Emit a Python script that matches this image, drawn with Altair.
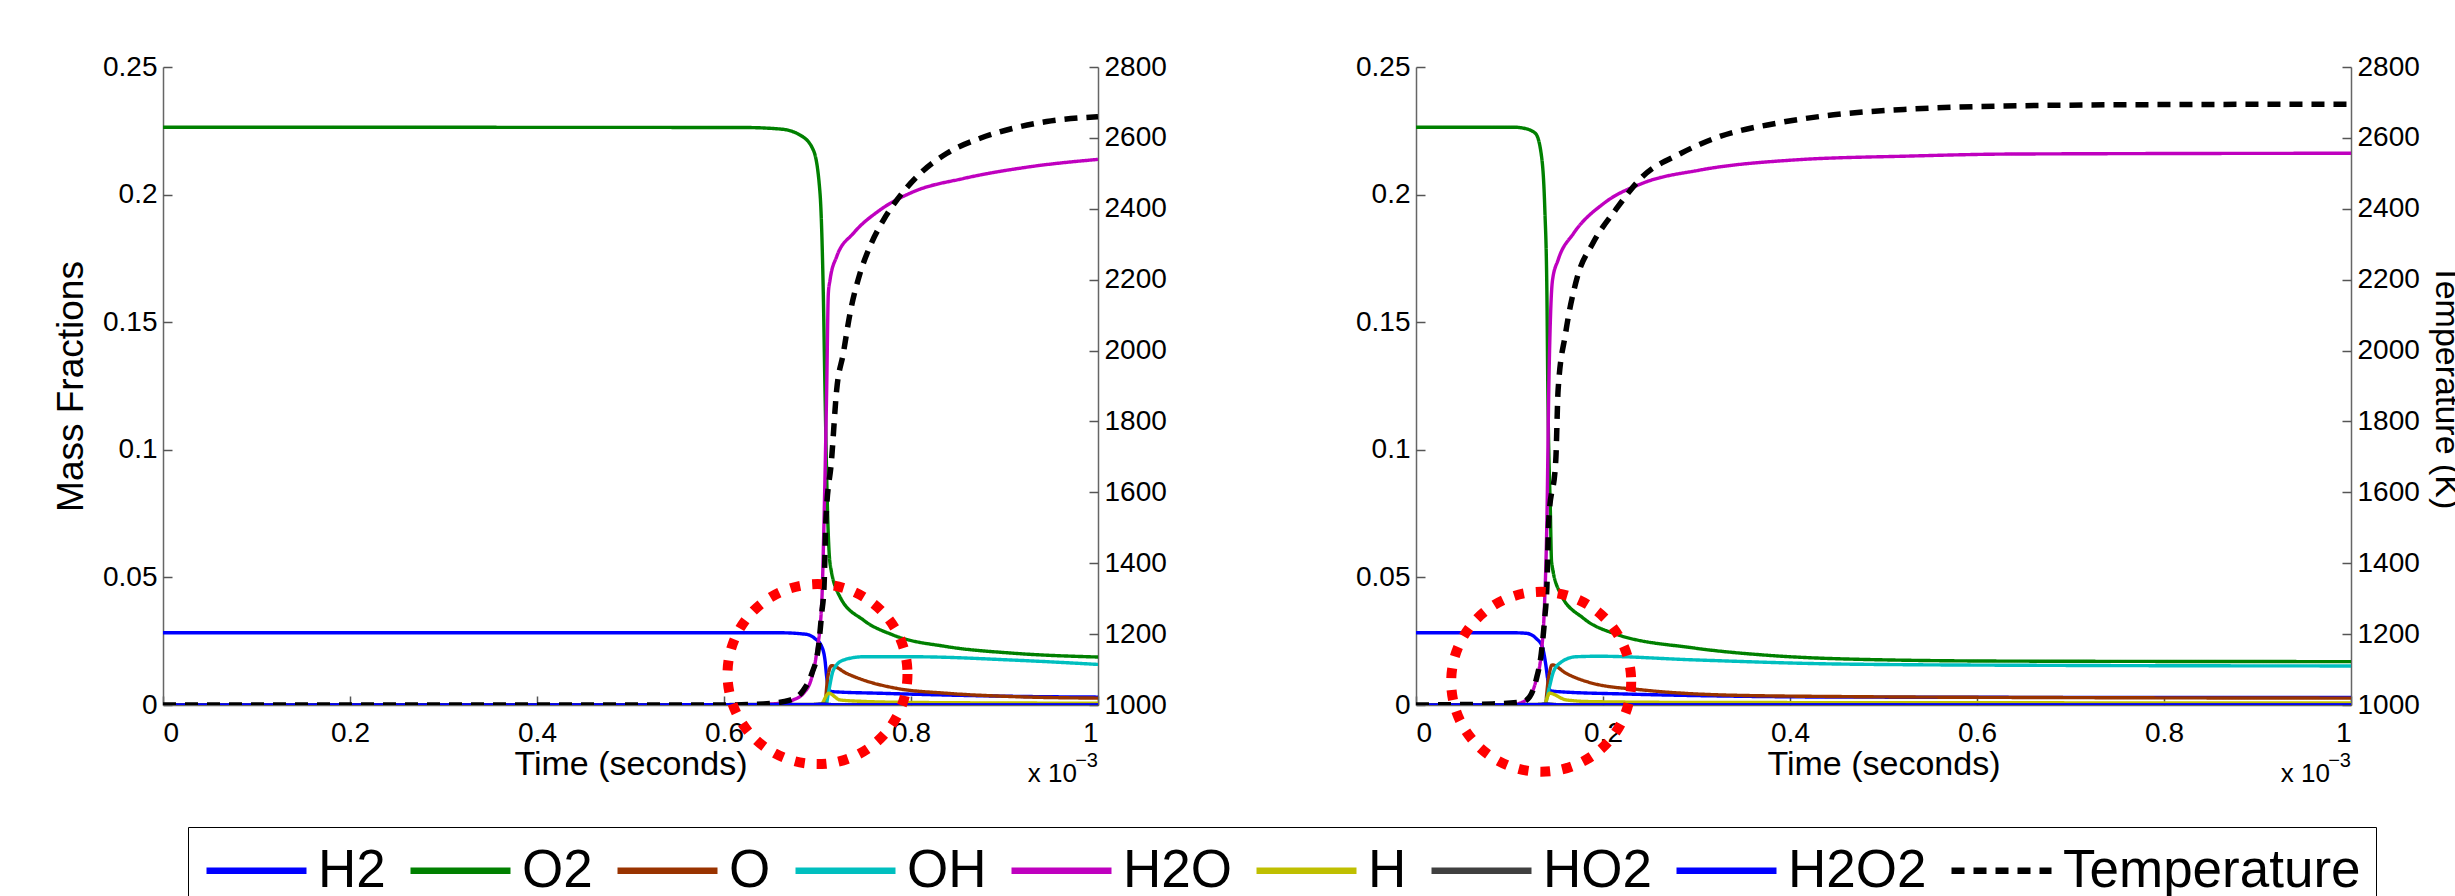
import altair as alt
import pandas as pd

FONT = "Liberation Sans"

SERIES = ["H2", "O2", "O", "OH", "H2O", "H", "HO2", "H2O2", "Temperature"]
COLORS = ["#0000ff", "#008000", "#993300", "#00bfbf", "#bf00bf", "#bfbf00", "#404040", "#0000ff", "#000000"]
DASHES = [[1, 0], [1, 0], [1, 0], [1, 0], [1, 0], [1, 0], [1, 0], [1, 0], [13, 9]]

X_TICKS = [0, 0.2, 0.4, 0.6, 0.8, 1]
Y_TICKS = [0, 0.05, 0.1, 0.15, 0.2, 0.25]
T_TICKS = [1000, 1200, 1400, 1600, 1800, 2000, 2200, 2400, 2600, 2800]
EXP_TEXT = ["x 10", "\u22123"]

# ---------------- Left panel (time in 1e-3 s) ----------------
L_H2_T = [0, 0.66, 0.688, 0.697, 0.7045, 0.708, 0.7098, 0.7123, 0.717, 0.767, 0.838, 0.909, 1.0]
L_H2_Y = [0.0283, 0.0283, 0.0277, 0.0261, 0.0229, 0.0176, 0.0111, 0.0056, 0.0052, 0.0046, 0.0039, 0.0034, 0.0031]
L_O2_T = [0, 0.62, 0.66, 0.681, 0.6955, 0.7027, 0.7062, 0.708, 0.711, 0.7134, 0.724, 0.749, 0.781, 0.838, 0.909, 1.0]
L_O2_Y = [0.2264, 0.2263, 0.2257, 0.2234, 0.2175, 0.2005, 0.1613, 0.1234, 0.0725, 0.0555, 0.0424, 0.0333, 0.0274, 0.0229, 0.0203, 0.0188]
L_O_T = [0, 0.7075, 0.711, 0.715, 0.731, 0.749, 0.785, 0.838, 0.909, 1.0]
L_O_Y = [0, 0, 0.011, 0.0154, 0.0124, 0.0098, 0.0065, 0.0046, 0.0033, 0.0027]
L_OH_T = [0, 0.709, 0.7116, 0.717, 0.7276, 0.749, 0.802, 0.909, 1.0]
L_OH_Y = [0, 0, 0.0046, 0.0137, 0.0176, 0.0189, 0.0189, 0.0176, 0.0159]
L_H2O_T = [0, 0.62, 0.66, 0.674, 0.685, 0.694, 0.699, 0.7045, 0.707, 0.7098, 0.7116, 0.7134, 0.7205, 0.7383, 0.767, 0.8025, 0.856, 0.927, 1.0]
L_H2O_Y = [0, 0, 0.0007, 0.002, 0.0046, 0.011, 0.0202, 0.0398, 0.0725, 0.1234, 0.1613, 0.1665, 0.1757, 0.1848, 0.194, 0.2011, 0.2063, 0.2109, 0.2138]
L_H_T = [0, 0.703, 0.712, 0.724, 0.749, 0.802, 1.0]
L_H_Y = [0, 0, 0.0046, 0.002, 0.0014, 0.001, 0.0007]
L_HO2_T = [0, 0.69, 0.705, 0.72, 1.0]
L_HO2_Y = [0.00005, 0.0002, 0.0004, 0.0001, 0.00005]
L_H2O2_T = [0, 0.69, 0.705, 0.72, 1.0]
L_H2O2_Y = [0.00001, 0.0001, 0.0002, 0.00005, 0.00001]
L_TEMP_T = [0, 0.6, 0.642, 0.6706, 0.685, 0.694, 0.701, 0.7045, 0.707, 0.709, 0.715, 0.7205, 0.7276, 0.7348,
            0.7455, 0.756, 0.7705, 0.785, 0.81, 0.838, 0.874, 0.909, 0.945, 1.0]
L_TEMP_K = [1000, 1000, 1003, 1014, 1042, 1089, 1164, 1259, 1334, 1522, 1691, 1889, 1992, 2105,
            2218, 2293, 2368, 2425, 2500, 2556, 2599, 2627, 2646, 2660]
L_CIRCLE_T = [0.700]
L_CIRCLE_Y = [0.0121]

# ---------------- Right panel ----------------
R_H2_T = [0, 0.105, 0.118, 0.1285, 0.135, 0.1386, 0.141, 0.1435, 0.1535, 0.2247, 0.3315, 0.456, 0.7, 1.0]
R_H2_Y = [0.0283, 0.0283, 0.0281, 0.0261, 0.0229, 0.0163, 0.0098, 0.0056, 0.0052, 0.0043, 0.0035, 0.0031, 0.003, 0.003]
R_O2_T = [0, 0.105, 0.1154, 0.1277, 0.1338, 0.1378, 0.14, 0.141, 0.1437, 0.145, 0.154, 0.179, 0.212, 0.296, 0.379, 0.463, 0.63, 1.0]
R_O2_Y = [0.2264, 0.2264, 0.226, 0.224, 0.2162, 0.194, 0.1613, 0.1234, 0.076, 0.056, 0.044, 0.034, 0.028, 0.0224, 0.0194, 0.018, 0.0172, 0.017]
R_O_T = [0, 0.138, 0.1415, 0.1456, 0.1606, 0.189, 0.2425, 0.3315, 0.456, 0.7, 1.0]
R_O_Y = [0, 0, 0.01, 0.0157, 0.0124, 0.0085, 0.0059, 0.0039, 0.0033, 0.0029, 0.0027]
R_OH_T = [0, 0.1375, 0.1428, 0.1464, 0.1535, 0.171, 0.195, 0.296, 0.463, 0.7, 1.0]
R_OH_Y = [0, 0, 0.0072, 0.0124, 0.0163, 0.0189, 0.0191, 0.0177, 0.016, 0.0155, 0.0153]
R_H2O_T = [0, 0.1, 0.111, 0.1215, 0.1285, 0.134, 0.1375, 0.14, 0.142, 0.146, 0.152, 0.1685, 0.201, 0.242, 0.3034, 0.4057, 0.528, 0.638, 1.0]
R_H2O_Y = [0, 0, 0.0007, 0.0033, 0.0098, 0.0203, 0.0398, 0.0725, 0.1234, 0.1665, 0.1744, 0.1848, 0.1966, 0.2044, 0.2096, 0.2136, 0.2151, 0.2159, 0.2162]
R_H_T = [0, 0.137, 0.1428, 0.1606, 0.189, 0.3, 1.0]
R_H_Y = [0, 0, 0.0046, 0.002, 0.0013, 0.001, 0.0008]
R_HO2_T = [0, 0.125, 0.14, 0.155, 1.0]
R_HO2_Y = [0.00005, 0.0002, 0.0004, 0.0001, 0.00005]
R_H2O2_T = [0, 0.125, 0.14, 0.155, 1.0]
R_H2O2_Y = [0.00001, 0.0001, 0.0002, 0.00005, 0.00001]
R_TEMP_T = [0, 0.082, 0.114, 0.1215, 0.1285, 0.134, 0.1375, 0.14, 0.142, 0.1495, 0.152, 0.16, 0.1726, 0.189,
            0.2135, 0.242, 0.283, 0.3237, 0.385, 0.4466, 0.528, 0.63, 0.8, 1.0]
R_TEMP_K = [1000, 1003, 1009, 1023, 1071, 1146, 1240, 1334, 1522, 1691, 1889, 2049, 2208, 2302,
            2397, 2490, 2556, 2603, 2641, 2665, 2681, 2690, 2694, 2695]
R_CIRCLE_T = [0.1339]
R_CIRCLE_Y = [0.0091]


def frame(groups):
    rows = []
    for name, ts, vs in groups:
        for t, v in zip(ts, vs):
            rows.append({"series": name, "t": t, "v": v})
    return pd.DataFrame(rows)


LEGEND = alt.Legend(
    orient="none", legendX=25, legendY=760, direction="horizontal", columns=9,
    title=None, symbolType="M-2,0L2,0", symbolSize=2500, symbolStrokeWidth=6.5,
    symbolOffset=25, labelOffset=33,
    labelFontSize=53, labelFont=FONT, labelColor="black",
    columnPadding=11, padding=15, strokeColor="black", fillColor="white",
    labelLimit=0,
)

X_SCALE = alt.Scale(domain=[0, 1], nice=False, zero=False)
Y_SCALE = alt.Scale(domain=[0, 0.25], nice=False)
T_SCALE = alt.Scale(domain=[1000, 2800], nice=False, zero=False)


def inward(orient, values):
    # tick-only axis pulled inside the plot so that ticks point inward
    return alt.Axis(orient=orient, offset=-9, tickSize=9, labels=False, domain=False,
                    title="", values=values, ticks=True, grid=False)


def color_enc():
    return alt.Color("series:N", scale=alt.Scale(domain=SERIES, range=COLORS), legend=LEGEND)


def dash_enc():
    return alt.StrokeDash("series:N", scale=alt.Scale(domain=SERIES, range=DASHES), legend=LEGEND)


def panel(species, temp_t, temp_k, circ_t, circ_y, left_title, right_title):
    sp_df = frame(species)
    tp_df = frame([("Temperature", temp_t, temp_k)])
    circ_df = pd.DataFrame({"t": circ_t, "v": circ_y})

    lines = alt.Chart(sp_df).mark_line(strokeWidth=3.4, interpolate="monotone", clip=True).encode(
        x=alt.X("t:Q", scale=X_SCALE,
                axis=alt.Axis(title="Time (seconds)", values=X_TICKS, format="~g",
                              titleFontSize=34, ticks=False, labelPadding=14)),
        y=alt.Y("v:Q", scale=Y_SCALE,
                axis=alt.Axis(orient="left", values=Y_TICKS, format="~g",
                              title=left_title if left_title else "",
                              titleFontSize=37, titlePadding=12, ticks=False, labelPadding=6)),
        color=color_enc(),
        strokeDash=dash_enc(),
        detail="series:N",
    )
    temp = alt.Chart(tp_df).mark_line(strokeWidth=5.5, interpolate="monotone", clip=True).encode(
        x=alt.X("t:Q", scale=X_SCALE, axis=None),
        y=alt.Y("v:Q", scale=T_SCALE,
                axis=alt.Axis(orient="right", values=T_TICKS, format="d",
                              title=right_title if right_title else "",
                              titleFontSize=34, titlePadding=9, ticks=False, labelPadding=6)),
        color=color_enc(),
        strokeDash=dash_enc(),
    )
    right_ticks = alt.Chart(tp_df).mark_line(opacity=0).encode(
        x=alt.X("t:Q", scale=X_SCALE, axis=None),
        y=alt.Y("v:Q", scale=T_SCALE, axis=inward("right", T_TICKS)),
    )
    circle = alt.Chart(circ_df).mark_point(
        shape="circle", size=32400, filled=False, color="#ff0000", strokeWidth=10,
        strokeDash=[10, 12], opacity=1,
    ).encode(
        x=alt.X("t:Q", scale=X_SCALE, axis=inward("bottom", X_TICKS)),
        y=alt.Y("v:Q", scale=Y_SCALE, axis=inward("left", Y_TICKS)),
    )
    exp_main = alt.Chart(pd.DataFrame({"s": [EXP_TEXT[0]]})).mark_text(
        align="right", baseline="alphabetic", fontSize=26, font=FONT, color="black"
    ).encode(x=alt.value(914), y=alt.value(715), text="s:N")
    exp_sup = alt.Chart(pd.DataFrame({"s": [EXP_TEXT[1]]})).mark_text(
        align="right", baseline="alphabetic", fontSize=20, font=FONT, color="black"
    ).encode(x=alt.value(935), y=alt.value(700), text="s:N")

    return alt.layer(lines, temp, right_ticks, circle, exp_main, exp_sup).resolve_scale(
        x="independent", y="independent"
    ).properties(width=935, height=638)


left = panel(
    [("H2", L_H2_T, L_H2_Y), ("O2", L_O2_T, L_O2_Y), ("O", L_O_T, L_O_Y), ("OH", L_OH_T, L_OH_Y),
     ("H2O", L_H2O_T, L_H2O_Y), ("H", L_H_T, L_H_Y), ("HO2", L_HO2_T, L_HO2_Y), ("H2O2", L_H2O2_T, L_H2O2_Y)],
    L_TEMP_T, L_TEMP_K, L_CIRCLE_T, L_CIRCLE_Y, "Mass Fractions", None,
)
right = panel(
    [("H2", R_H2_T, R_H2_Y), ("O2", R_O2_T, R_O2_Y), ("O", R_O_T, R_O_Y), ("OH", R_OH_T, R_OH_Y),
     ("H2O", R_H2O_T, R_H2O_Y), ("H", R_H_T, R_H_Y), ("HO2", R_HO2_T, R_HO2_Y), ("H2O2", R_H2O2_T, R_H2O2_Y)],
    R_TEMP_T, R_TEMP_K, R_CIRCLE_T, R_CIRCLE_Y, None, "Temperature (K)",
)

chart = alt.hconcat(left, right, spacing=188).resolve_scale(
    color="shared", strokeDash="shared"
).properties(
    autosize=alt.AutoSizeParams(type="none"),
    padding={"left": 163, "top": 67, "right": 2292, "bottom": 829},
    background="white",
).configure(font=FONT).configure_view(stroke=None).configure_axis(
    labelFont=FONT, titleFont=FONT, labelColor="black", titleColor="black",
    titleFontWeight="normal", labelFontSize=28, domainColor="#666666", tickColor="#555555",
    domainWidth=1.5, tickWidth=1.5, grid=False,
).configure_axisX(titlePadding=0)

chart.save("out.html", embed_options={"renderer": "svg", "actions": False})
